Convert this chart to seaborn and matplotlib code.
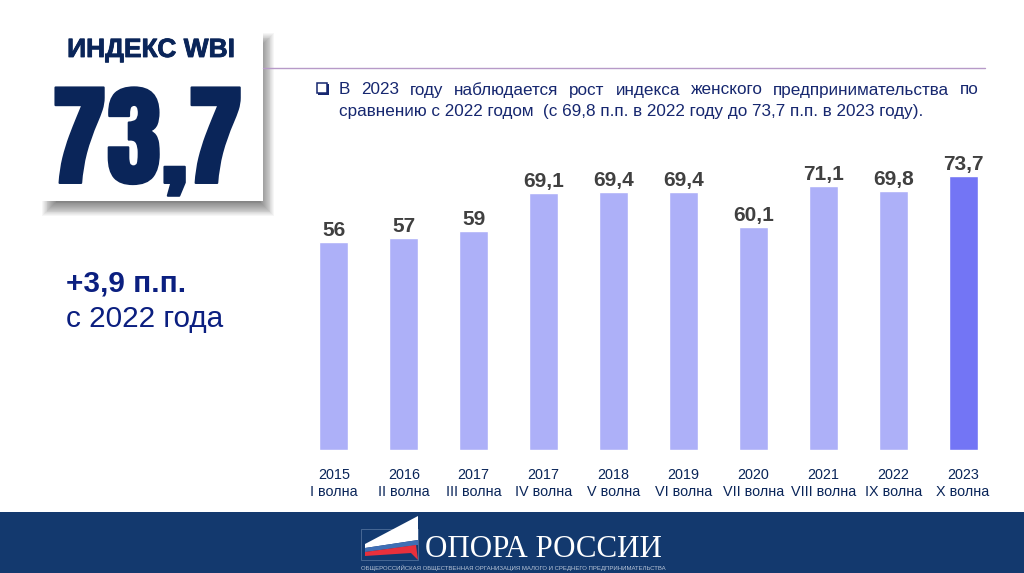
import matplotlib
matplotlib.use('Agg')
import matplotlib.pyplot as plt
import matplotlib.patheffects as pe
from matplotlib.patches import Rectangle, Polygon
import seaborn as sns

# ── Data ───────────────────────────────────────────────
years = ['2015', '2016', '2017', '2017', '2018', '2019', '2020', '2021', '2022', '2023']
waves = ['I волна', 'II волна', 'III волна', 'IV волна', 'V волна',
         'VI волна', 'VII волна', 'VIII волна', 'IX волна', 'X волна']
values = [56, 57, 59, 69.1, 69.4, 69.4, 60.1, 71.1, 69.8, 73.7]
value_labels = ['56', '57', '59', '69,1', '69,4', '69,4', '60,1', '71,1', '69,8', '73,7']
tick_labels = [f'{y}\n{w}' for y, w in zip(years, waves)]

line1 = 'В 2023 году наблюдается рост индекса женского предпринимательства по'
line2 = 'сравнению с 2022 годом  (с 69,8 п.п. в 2022 году до 73,7 п.п. в 2023 году).'

NAVY = '#0a2559'
BLUE = '#16276f'
BAR = '#adb0f8'
BAR_LAST = '#7375f5'
FOOTER = '#13396e'

W, H = 1024, 573

sns.set_theme(style='white')
plt.rcParams['font.family'] = ['Liberation Sans', 'DejaVu Sans']

fig = plt.figure(figsize=(W / 100, H / 100), dpi=100, facecolor='white')

# overlay in pixel coordinates, y going down
bg = fig.add_axes([0, 0, 1, 1])
bg.set_xlim(0, W)
bg.set_ylim(H, 0)
bg.axis('off')

# ── Bars ───────────────────────────────────────────────
ax = fig.add_axes([299 / W, (H - 450) / H, 699 / W, 310 / H])
ax.patch.set_alpha(0)
colors = [BAR] * 9 + [BAR_LAST]
sns.barplot(x=tick_labels, y=values, hue=tick_labels, palette=colors,
            legend=False, width=0.415, saturation=1, ax=ax)
ax.set_xlim(-0.5, 9.5)
ax.set_ylim(0, 83.5)
ax.set_yticks([])
sns.despine(ax=ax, left=True, bottom=True)
for cont, lab in zip(ax.containers, value_labels):
    ax.bar_label(cont, labels=[lab], padding=1.5, fontsize=15, fontweight='bold', color='#404040')
ax.tick_params(axis='x', length=0, pad=13, labelsize=10.4, labelcolor=NAVY)
for t in ax.get_xticklabels():
    t.set_linespacing(1.3)

# ── Header rule and justified text ─────────────────────
bg.plot([263, 985], [68, 68], color='#b79ac8', lw=1)
bg.add_patch(Rectangle((318, 84), 11, 11, fc='#16276f', ec='none'))
bg.add_patch(Rectangle((316.5, 82.5), 10.5, 10.5, fc='white', ec=BLUE, lw=1.1))

fig.canvas.draw()
renderer = fig.canvas.get_renderer()
text_size = 12.35
words = line1.split()
probes = [bg.text(0, 0, w, fontsize=text_size) for w in words]
widths = [p.get_window_extent(renderer).width for p in probes]
for p in probes:
    p.remove()
x0, x1 = 339, 979
gap = (x1 - x0 - sum(widths)) / (len(words) - 1)
x = x0
for w, wd in zip(words, widths):
    bg.text(x, 94.5, w, fontsize=text_size, color=BLUE, va='baseline', ha='left')
    x += wd + gap
bg.text(x0, 116, line2, fontsize=text_size, color=BLUE, va='baseline', ha='left')

# ── Index card ─────────────────────────────────────────
for d in range(-8, 11):
    bg.add_patch(Rectangle((51 - d * 0.9, 42 - d * 0.9), 214 + d * 1.8, 165 + d * 1.8,
                           fc='black', ec='none', alpha=0.035))
bg.add_patch(Rectangle((39, 30), 224, 171, fc='white', ec='none'))
bg.text(151, 50, 'ИНДЕКС WBI', fontsize=19, fontweight='bold', color=NAVY, ha='center', va='center',
        path_effects=[pe.withStroke(linewidth=0.6, foreground=NAVY)])

big_font = ['Anton', 'Liberation Sans']
bg.text(147, 183, '73,7', fontsize=80, family=big_font, color=NAVY, ha='center', va='baseline',
        path_effects=[pe.withStroke(linewidth=1.5, foreground=NAVY)])

# ── Left note ──────────────────────────────────────────
bg.text(66, 284, '+3,9 п.п.', fontsize=21.4, fontweight='bold', color='#0b1f80', va='center')
bg.text(66, 319, 'с 2022 года', fontsize=21.4, color='#0b1f80', va='center')

# ── Footer with logo ───────────────────────────────────
bg.add_patch(Rectangle((0, 512), W, 61, fc=FOOTER, ec='none'))
bg.add_patch(Rectangle((361, 529), 57, 31, fc='#123a70', ec='#5c7ba3', lw=0.5))
bg.add_patch(Polygon([(365, 544), (418, 516), (418, 540), (365, 548)], fc='white', ec='none'))
bg.add_patch(Polygon([(365, 548), (418, 540), (418, 545), (365, 552)], fc='#3f6fb5', ec='none'))
bg.add_patch(Polygon([(365, 552), (416, 545), (418, 560), (411, 553), (365, 556)], fc='#e8303c', ec='none'))
bg.text(425, 557, 'ОПОРА РОССИИ', fontsize=22.3, family='Liberation Serif', color='white', va='baseline')
bg.text(361, 568, 'ОБЩЕРОССИЙСКАЯ ОБЩЕСТВЕННАЯ ОРГАНИЗАЦИЯ МАЛОГО И СРЕДНЕГО ПРЕДПРИНИМАТЕЛЬСТВА',
        fontsize=4.3, color='#b9c6d8', va='center')

plt.savefig('out.png', dpi=100)
